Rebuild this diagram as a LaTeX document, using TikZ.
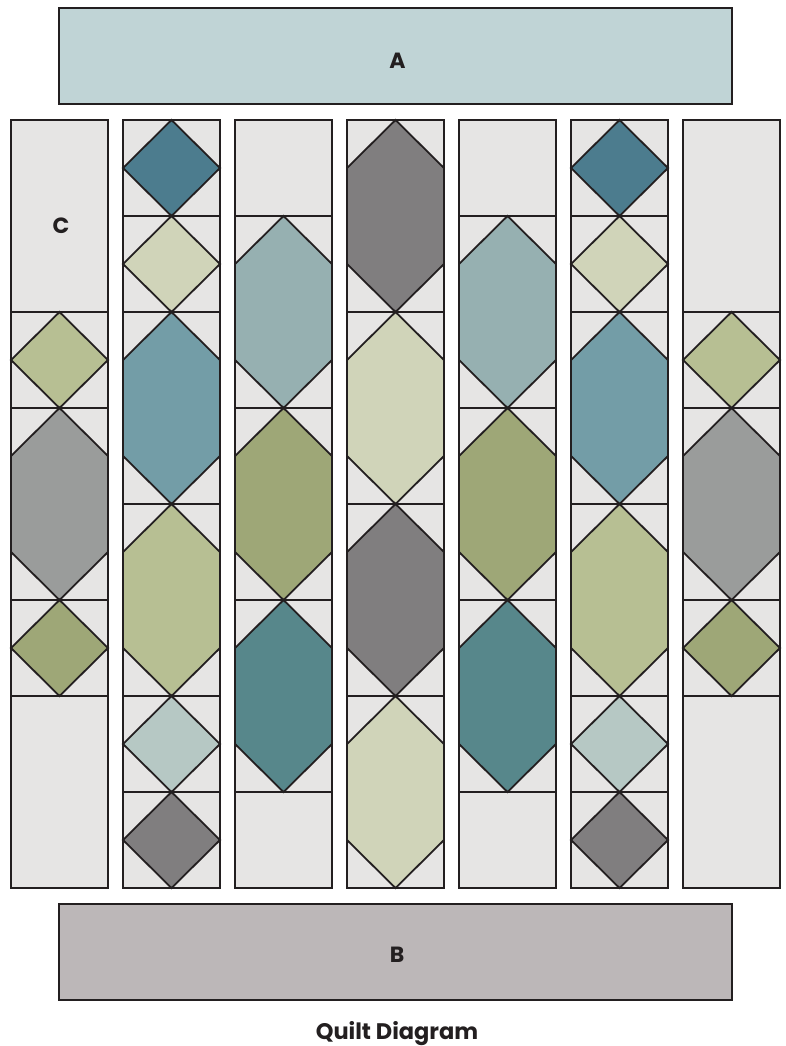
\documentclass[tikz,border=0pt]{standalone}
\usepackage{fontspec}
\setmainfont{Poppins}
\definecolor{qbg}{HTML}{E6E5E4}
\definecolor{qline}{HTML}{231F20}
\definecolor{qA}{HTML}{C0D4D6}
\definecolor{qB}{HTML}{BCB7B8}
\definecolor{qteal}{HTML}{4C7C8E}
\definecolor{qpale}{HTML}{D0D4B9}
\definecolor{qmidblue}{HTML}{739DA7}
\definecolor{qlime}{HTML}{B7BF93}
\definecolor{qpaleblue}{HTML}{B6C8C4}
\definecolor{qdgrey}{HTML}{807E7F}
\definecolor{qlblue}{HTML}{96B0B1}
\definecolor{qolive}{HTML}{9EA777}
\definecolor{qdteal}{HTML}{57878B}
\definecolor{qgrey}{HTML}{9A9C9B}
\tikzset{
  qstroke/.style={draw=qline, line width=1.8pt, line join=miter},
  banner/.style={qstroke, minimum width=673pt, minimum height=96pt, inner sep=0pt},
  lbl/.style={font=\bfseries\fontsize{22}{26}\selectfont, text=qline, anchor=base, inner sep=0pt},
}
% diamond in a one-unit block at left x, top y
\newcommand\qdia[3]{\filldraw[qstroke, fill=#3] (#1+48.5,#2) -- (#1+97,#2+48) -- (#1+48.5,#2+96) -- (#1,#2+48) -- cycle;}
% hexagon in a two-unit block
\newcommand\qhex[3]{\filldraw[qstroke, fill=#3] (#1+48.5,#2) -- (#1+97,#2+48) -- (#1+97,#2+144) -- (#1+48.5,#2+192) -- (#1,#2+144) -- (#1,#2+48) -- cycle;}
% column background
\newcommand\qcolbg[1]{\fill[qbg] (#1,120) rectangle (#1+97,888);}
% column outline
\newcommand\qcolout[1]{\draw[qstroke] (#1,120) rectangle (#1+97,888);}
% horizontal seam
\newcommand\qseam[2]{\draw[qstroke] (#1,#2) -- (#1+97,#2);}
\begin{document}
\begin{tikzpicture}[x=1pt, y=-1pt]
\useasboundingbox (0,0) rectangle (786,1046);
% banners
\node[banner, fill=qA] (A) at (395.5,56) {};
\node[lbl] (Alab) at (397.5,69) {A};
\node[banner, fill=qB] (B) at (395.5,952) {};
\node[lbl] (Blab) at (397,962) {B};
% backgrounds
\foreach \c in {11,123,235,347,459,571,683} {\qcolbg{\c}}
% column 1 and 7
\foreach \c in {11,683} {
  \qdia{\c}{312}{qlime}
  \qhex{\c}{408}{qgrey}
  \qdia{\c}{600}{qolive}
  \qseam{\c}{312}\qseam{\c}{408}\qseam{\c}{600}\qseam{\c}{696}
}
% column 2 and 6
\foreach \c in {123,571} {
  \qdia{\c}{120}{qteal}
  \qdia{\c}{216}{qpale}
  \qhex{\c}{312}{qmidblue}
  \qhex{\c}{504}{qlime}
  \qdia{\c}{696}{qpaleblue}
  \qdia{\c}{792}{qdgrey}
  \qseam{\c}{216}\qseam{\c}{312}\qseam{\c}{504}\qseam{\c}{696}\qseam{\c}{792}
}
% column 3 and 5
\foreach \c in {235,459} {
  \qhex{\c}{216}{qlblue}
  \qhex{\c}{408}{qolive}
  \qhex{\c}{600}{qdteal}
  \qseam{\c}{216}\qseam{\c}{408}\qseam{\c}{600}\qseam{\c}{792}
}
% column 4
\qhex{347}{120}{qdgrey}
\qhex{347}{312}{qpale}
\qhex{347}{504}{qdgrey}
\qhex{347}{696}{qpale}
\qseam{347}{312}\qseam{347}{504}\qseam{347}{696}
% outlines
\foreach \c in {11,123,235,347,459,571,683} {\qcolout{\c}}
\node[lbl] (Clab) at (61,233) {C};
\node[font=\bfseries\fontsize{22.5}{26}\selectfont, text=qline, anchor=base, inner sep=0pt] (title) at (397,1039) {Quilt Diagram};
\end{tikzpicture}
\end{document}
